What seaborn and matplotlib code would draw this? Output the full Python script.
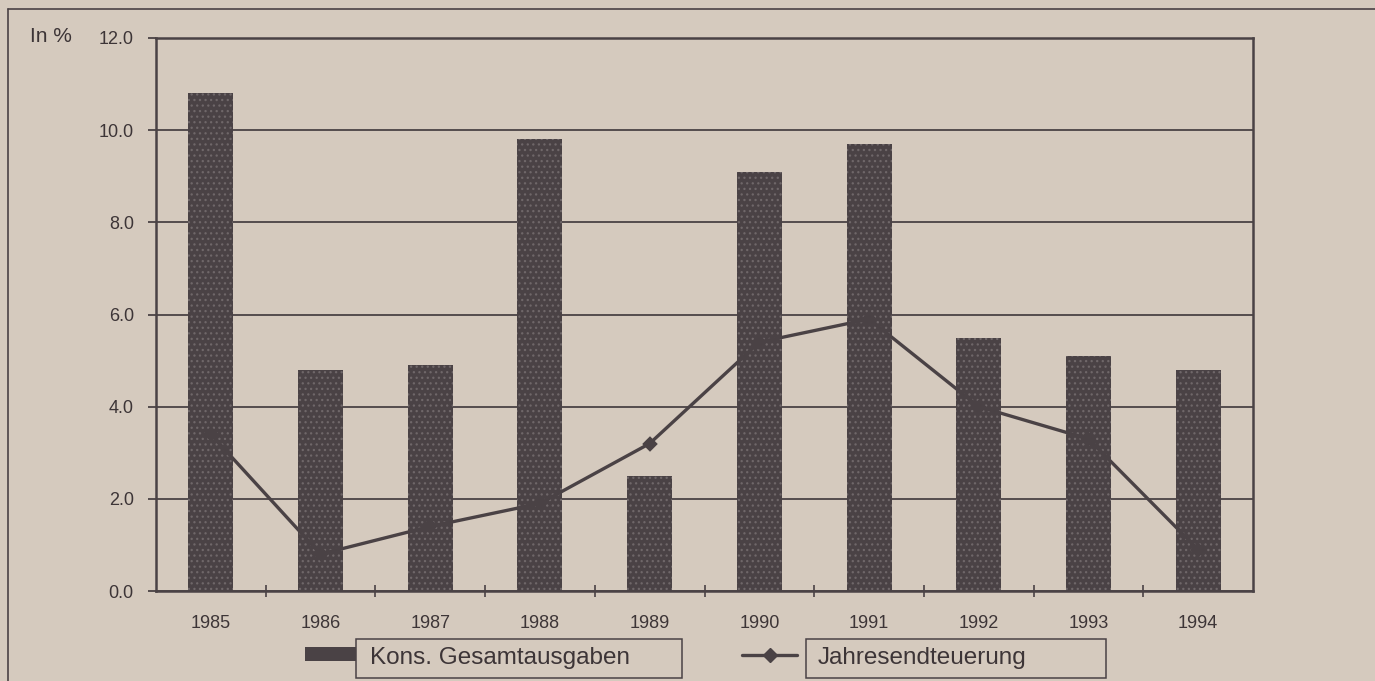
import matplotlib
matplotlib.use("Agg")
import matplotlib.pyplot as plt
import seaborn as sns
import pandas as pd
from matplotlib.patches import Rectangle
from matplotlib.lines import Line2D

years = ["1985", "1986", "1987", "1988", "1989", "1990", "1991", "1992", "1993", "1994"]
ausgaben = [10.8, 4.8, 4.9, 9.8, 2.5, 9.1, 9.7, 5.5, 5.1, 4.8]
teuerung = [3.4, 0.8, 1.4, 1.9, 3.2, 5.4, 5.9, 4.0, 3.3, 0.9]
yticks = [0, 2, 4, 6, 8, 10, 12]
label_bar = "Kons. Gesamtausgaben"
label_line = "Jahresendteuerung"

BG = "#d5cabe"
DARK = "#4a4245"
INK = "#3d3537"

sns.set_theme(style="white")
plt.rcParams["font.family"] = ["Liberation Sans", "DejaVu Sans"]
plt.rcParams["hatch.linewidth"] = 0.9

df = pd.DataFrame({"Jahr": years, "Ausgaben": ausgaben, "Teuerung": teuerung})

W, H = 1375, 681
fig = plt.figure(figsize=(W / 100, H / 100), dpi=100, facecolor=BG)
ax = fig.add_axes([156 / W, 1 - 591 / H, (1253 - 156) / W, (591 - 38) / H])
ax.set_facecolor(BG)

sns.barplot(data=df, x="Jahr", y="Ausgaben", color=DARK, width=0.41,
            saturation=1, ax=ax, zorder=2)
for p in ax.patches:
    p.set_facecolor(DARK)
    p.set_edgecolor("#6f6769")
    p.set_linewidth(0)
    p.set_hatch("...")

sns.pointplot(data=df, x="Jahr", y="Teuerung", color=DARK, markers="D",
              markersize=6, linewidth=2.4, ax=ax, zorder=3)

ax.set_xlim(-0.5, 9.5)
ax.set_ylim(0, 12)
ax.set_yticks(yticks)
ax.set_yticklabels([f"{v:.1f}" for v in yticks])
ax.set_xlabel("")
ax.set_ylabel("")
ax.set_axisbelow(True)
ax.yaxis.grid(True, color=DARK, linewidth=1.3)
ax.xaxis.grid(False)

for s in ax.spines.values():
    s.set_visible(True)
    s.set_color(DARK)
    s.set_linewidth(1.8)

ax.tick_params(axis="y", left=True, length=6, width=1.3, color=DARK,
               labelsize=13, labelcolor=INK, pad=10)
ax.tick_params(axis="x", which="major", bottom=False, length=0,
               labelsize=13, labelcolor=INK, pad=17)
ax.set_xticks([i + 0.5 for i in range(len(years) - 1)], minor=True)
ax.tick_params(axis="x", which="minor", bottom=True, direction="inout",
               length=8, width=1.2, color=DARK)

# "In %" label
fig.text(30 / W, 1 - 37 / H, "In %", fontsize=15, color=INK, ha="left", va="center")

# outer frame lines
fig.add_artist(Line2D([8 / W, 1.0], [1 - 9 / H, 1 - 9 / H], transform=fig.transFigure,
                      color=DARK, linewidth=1.2))
fig.add_artist(Line2D([8 / W, 8 / W], [0, 1 - 9 / H], transform=fig.transFigure,
                      color=DARK, linewidth=1.2))

# legend (two framed entries)
def fx(px):
    return px / W

def fy(py):
    return 1 - py / H

# bar entry
fig.add_artist(Rectangle((fx(305), fy(661)), fx(356) - fx(305), fy(647) - fy(661),
                         transform=fig.transFigure, facecolor=DARK, edgecolor="none"))
fig.add_artist(Rectangle((fx(356), fy(678)), fx(682) - fx(356), fy(639) - fy(678),
                         transform=fig.transFigure, facecolor="none", edgecolor=DARK,
                         linewidth=1.1))
fig.text(fx(370), fy(658), label_bar, fontsize=17.5, color=INK, ha="left", va="center")

# line entry
fig.add_artist(Line2D([fx(742), fx(797)], [fy(655), fy(655)], transform=fig.transFigure,
                      color=DARK, linewidth=2.4))
fig.add_artist(Line2D([fx(770)], [fy(655)], transform=fig.transFigure, color=DARK,
                      marker="D", markersize=7, linestyle="none"))
fig.add_artist(Rectangle((fx(806), fy(678)), fx(1106) - fx(806), fy(639) - fy(678),
                         transform=fig.transFigure, facecolor="none", edgecolor=DARK,
                         linewidth=1.1))
fig.text(fx(818), fy(658), label_line, fontsize=17.5, color=INK, ha="left", va="center")

fig.savefig("out.png", dpi=100, facecolor=BG)
